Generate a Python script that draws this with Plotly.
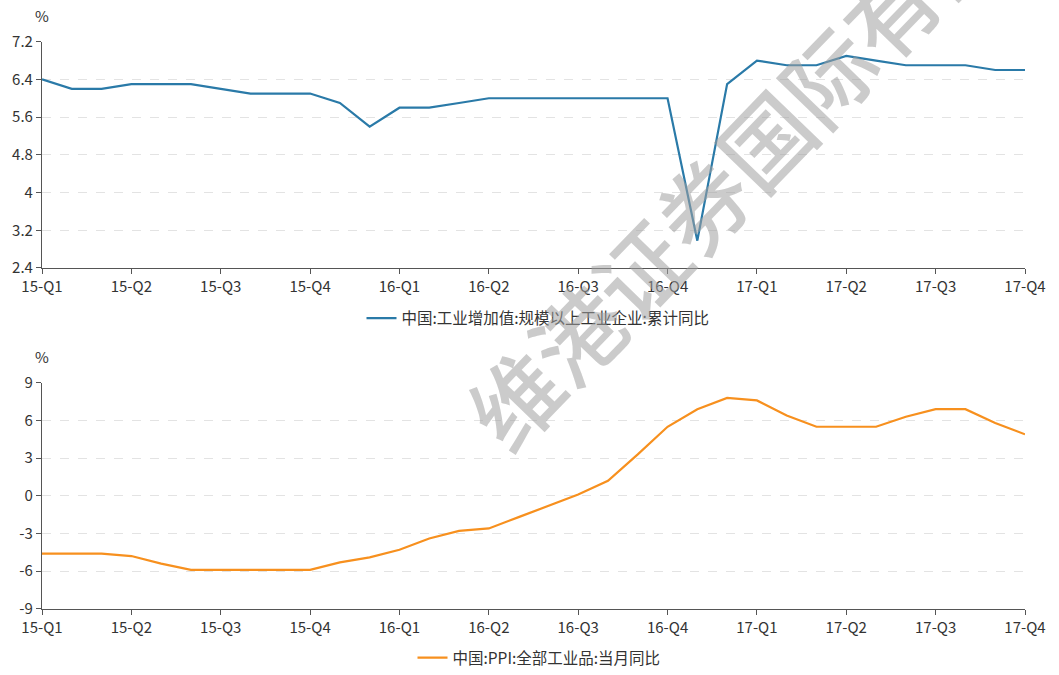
import plotly.graph_objects as go

# ---- data ----
months = [f"{y}-{m:02d}" for y in (2015, 2016, 2017) for m in range(1, 13)][2:]  # Mar 2015 .. Dec 2017 (34 points)
quarter_labels = ["15-Q1", "15-Q2", "15-Q3", "15-Q4", "16-Q1", "16-Q2",
                  "16-Q3", "16-Q4", "17-Q1", "17-Q2", "17-Q3", "17-Q4"]

industrial_va = [6.4, 6.2, 6.2, 6.3, 6.3, 6.3, 6.2, 6.1, 6.1, 6.1,
                 5.9, 5.4, 5.8, 5.8, 5.9, 6.0, 6.0, 6.0, 6.0, 6.0,
                 6.0, 6.0, 2.98, 6.3, 6.8, 6.7, 6.7, 6.9, 6.8, 6.7,
                 6.7, 6.7, 6.6, 6.6]
ppi = [-4.6, -4.6, -4.6, -4.8, -5.4, -5.9, -5.9, -5.9, -5.9, -5.9,
       -5.3, -4.9, -4.3, -3.4, -2.8, -2.6, -1.7, -0.8, 0.1, 1.2,
       3.3, 5.5, 6.9, 7.8, 7.6, 6.4, 5.5, 5.5, 5.5, 6.3,
       6.9, 6.9, 5.8, 4.9]

top_ticks = [7.2, 6.4, 5.6, 4.8, 4.0, 3.2, 2.4]
top_ticktext = ["7.2", "6.4", "5.6", "4.8", "4", "3.2", "2.4"]
bot_ticks = [9, 6, 3, 0, -3, -6, -9]

name1 = "中国:工业增加值:规模以上工业企业:累计同比"
name2 = "中国:PPI:全部工业品:当月同比"

FONT = "Noto Sans CJK SC, Noto Sans, sans-serif"
H = 675.0
xidx = list(range(len(months)))
qtick = xidx[::3]


def py(pix):
    """pixel row (from top) -> paper fraction"""
    return (H - pix) / H


fig = go.Figure()
fig.add_trace(go.Scatter(x=xidx, y=industrial_va, mode="lines", name=name1,
                         line=dict(color="#2a7aa8", width=2.2),
                         xaxis="x", yaxis="y", legend="legend"))
fig.add_trace(go.Scatter(x=xidx, y=ppi, mode="lines", name=name2,
                         line=dict(color="#f7901e", width=2.2),
                         xaxis="x2", yaxis="y2", legend="legend2"))

axis_common = dict(showline=True, linecolor="#555555", linewidth=1.2,
                   ticks="outside", ticklen=5, tickcolor="#555555",
                   tickfont=dict(family=FONT, size=15, color="#333333"),
                   zeroline=False, automargin=False)

top_dom = [py(270), py(42)]
bot_dom = [py(613.3), py(385.7)]

fig.update_layout(
    width=1059, height=675,
    margin=dict(l=42, r=34, t=0, b=0),
    paper_bgcolor="white", plot_bgcolor="white",
    font=dict(family=FONT, color="#333333"),
    xaxis=dict(domain=[0, 1], anchor="y", range=[0, 33], tickvals=qtick,
               ticktext=quarter_labels, showgrid=False, **axis_common),
    yaxis=dict(domain=top_dom, anchor="x", range=[2.4, 7.2],
               tickvals=top_ticks, ticktext=top_ticktext,
               showgrid=True, gridcolor="#e3e3e3", griddash="dash", gridwidth=1,
               **axis_common),
    xaxis2=dict(domain=[0, 1], anchor="y2", range=[0, 33], tickvals=qtick,
                ticktext=quarter_labels, showgrid=False, **axis_common),
    yaxis2=dict(domain=bot_dom, anchor="x2", range=[-9, 9],
                tickvals=bot_ticks, ticktext=[str(v) for v in bot_ticks],
                showgrid=True, gridcolor="#e3e3e3", griddash="dash", gridwidth=1,
                **axis_common),
    legend=dict(x=(538 - 42) / 983, y=py(321), xanchor="center", yanchor="middle",
                orientation="h", itemwidth=30,
                font=dict(family=FONT, size=15.5, color="#333333"),
                bgcolor="rgba(0,0,0,0)"),
    legend2=dict(x=(539 - 42) / 983, y=py(663), xanchor="center", yanchor="middle",
                 orientation="h", itemwidth=30,
                 font=dict(family=FONT, size=15.5, color="#333333"),
                 bgcolor="rgba(0,0,0,0)"),
    showlegend=True,
)

# unit labels
fig.add_annotation(text="%", xref="paper", yref="paper", x=0, y=top_dom[1],
                   xanchor="center", yanchor="bottom", yshift=14, showarrow=False,
                   font=dict(family=FONT, size=15, color="#333333"))
fig.add_annotation(text="%", xref="paper", yref="paper", x=0, y=bot_dom[1],
                   xanchor="center", yanchor="bottom", yshift=14, showarrow=False,
                   font=dict(family=FONT, size=15, color="#333333"))

# watermark
fig.add_annotation(text="维港证券国际有限公司", xref="paper", yref="paper",
                   x=(795 - 42) / 983, y=py(107),
                   xanchor="center", yanchor="middle", showarrow=False,
                   textangle=-46,
                   font=dict(family=FONT, size=90, weight=500,
                             color="rgba(160,160,160,0.55)"))

fig.write_html("out.html")
